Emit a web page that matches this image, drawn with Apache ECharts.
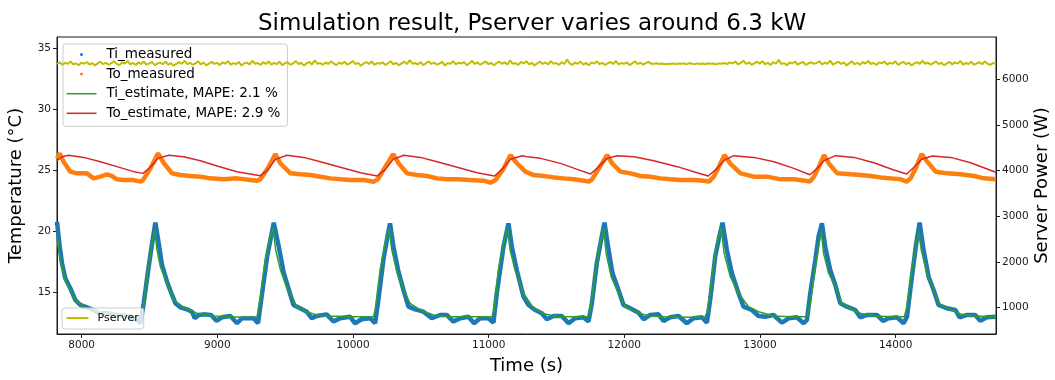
<!DOCTYPE html>
<html><head><meta charset="utf-8">
<script src="https://cdn.jsdelivr.net/npm/echarts@6/dist/echarts.min.js"></script>
<style>html,body{margin:0;padding:0;background:#fff}#c{width:1055px;height:380px}</style>
</head><body><div id="c"></div>
<script>
const titleText = 'Simulation result, Pserver varies around 6.3 kW';
const xTicks = [8000, 9000, 10000, 11000, 12000, 13000, 14000];
const tempTicks = [15, 20, 25, 30, 35];
const powerTicks = [1000, 2000, 3000, 4000, 5000, 6000];
const seriesNames = ['Ti_measured', 'To_measured', 'Ti_estimate, MAPE: 2.1 %', 'To_estimate, MAPE: 2.9 %', 'Pserver'];

const tiMeasured = [
[7818,20.79],[7838,18.74],[7855,17.37],[7879,16.15],[7916,15.33],[7953,14.37],[7990,13.96],[8039,13.77],[8088,13.55],[8125,13.28],[8187,13.28],[8260,13.14],[8334,13.06],[8408,12.73],[8433,12.46],[8457,14.10],[8494,17.10],[8519,19.01],[8543,20.71],[8568,19.01],[8592,17.24],[8629,15.87],[8666,14.78],[8691,14.10],[8727,13.77],[8777,13.60],[8813,13.41],[8833,12.87],[8863,13.14],[8912,13.19],[8954,13.14],[8993,12.67],[9035,12.95],[9096,13.06],[9145,12.46],[9182,12.87],[9231,12.87],[9268,12.87],[9300,12.46],[9330,14.92],[9367,17.92],[9416,20.71],[9453,18.74],[9490,16.56],[9539,14.78],
[9561,13.96],[9610,13.69],[9659,13.41],[9696,12.87],[9733,13.06],[9806,13.19],[9856,12.60],[9905,12.87],[9978,13.00],[10015,12.46],[10064,12.79],[10126,12.87],[10163,12.46],[10187,14.37],[10224,17.65],[10254,19.56],[10273,20.65],[10298,18.74],[10335,16.69],[10372,15.19],[10409,13.82],[10458,13.60],[10519,13.41],[10581,12.87],[10642,13.14],[10691,13.14],[10740,12.60],[10790,12.87],[10851,13.00],[10893,12.46],[10937,12.87],[10998,12.87],[11035,12.51],[11060,14.92],[11109,18.74],[11146,20.65],[11171,18.74],[11207,16.83],[11257,14.64],
[11294,13.96],[11343,13.55],[11392,13.28],[11429,12.79],[11478,13.06],[11539,13.06],[11589,12.46],[11638,12.87],[11699,12.95],[11736,12.60],[11761,14.10],[11797,17.37],[11829,19.29],[11854,20.71],[11884,18.47],[11913,16.56],[11957,15.19],[11994,13.96],[12043,13.69],[12105,13.33],[12142,12.79],[12191,13.14],[12252,13.19],[12289,12.65],[12338,12.95],[12400,13.06],[12461,12.46],[12510,12.87],[12572,12.95],[12609,12.51],[12633,14.37],[12670,17.92],[12700,19.56],[12724,20.71],[12756,18.47],[12793,16.56],[12842,14.92],[12879,13.82],[12940,13.55],[12990,13.06],
[13039,13.00],[13100,13.14],[13162,12.51],[13211,12.87],[13272,12.95],[13322,12.46],[13346,12.73],[13371,14.92],[13408,17.65],[13432,19.56],[13457,20.65],[13481,18.74],[13518,16.83],[13555,15.60],[13592,14.10],[13641,13.82],[13703,13.55],[13739,12.95],[13789,13.14],[13862,13.14],[13907,12.65],[13948,12.87],[14010,12.95],[14059,12.46],[14084,13.00],[14120,16.28],[14152,19.01],[14177,20.71],[14206,18.47],[14243,16.28],[14280,15.19],[14317,13.96],[14378,13.69],[14440,13.55],[14472,12.95],[14526,13.14],[14587,13.14],[14624,12.67],[14673,12.95],[14738,13.00]
];

const tiEstimate = [
[7818,19.56],[7843,17.65],[7879,16.01],[7929,14.92],[7965,14.23],[8014,13.82],[8088,13.55],[8187,13.28],[8310,13.06],[8433,13.00],[8452,13.55],[8482,16.28],[8514,18.74],[8538,20.11],[8555,18.47],[8580,17.10],[8629,15.74],[8678,14.37],[8752,13.77],[8850,13.28],[8973,13.06],[9096,13.00],[9194,12.95],[9293,13.00],[9322,14.92],[9354,17.65],[9391,19.56],[9411,20.24],[9430,18.47],[9465,16.83],[9514,15.33],[9551,14.64],
[9585,13.82],[9659,13.41],[9733,13.14],[9831,13.06],[9978,13.00],[10151,13.00],[10163,13.55],[10200,16.83],[10237,19.01],[10266,20.24],[10286,18.47],[10323,16.69],[10372,15.19],[10421,14.10],[10495,13.55],[10593,13.14],[10716,13.00],[10888,13.00],[11023,13.00],[11040,13.55],[11072,16.83],[11109,19.01],[11139,20.24],[11158,18.47],[11195,16.83],[11257,14.92],
[11330,13.69],[11416,13.22],[11515,13.00],[11638,13.00],[11736,13.00],[11748,13.55],[11785,16.56],[11822,19.01],[11847,20.24],[11866,18.20],[11903,16.28],[11957,14.92],[12006,13.82],[12080,13.41],[12178,13.06],[12301,13.00],[12473,12.95],[12596,13.00],[12616,13.55],[12645,16.28],[12682,19.01],[12714,20.24],[12736,18.20],[12781,16.28],[12842,14.92],[12916,13.82],[12990,13.41],
[13100,13.06],[13223,13.00],[13346,13.00],[13371,14.10],[13408,17.10],[13440,19.29],[13452,19.97],[13469,18.20],[13506,16.56],[13555,15.46],[13604,14.10],[13666,13.69],[13739,13.28],[13838,13.06],[13985,13.00],[14064,13.00],[14084,13.82],[14120,16.83],[14152,19.01],[14170,19.97],[14189,18.47],[14231,16.56],[14280,15.19],[14329,13.96],[14403,13.60],[14477,13.22],[14575,13.06],[14738,13.00]
];

const toMeasured = [
[7818,25.97],[7838,26.39],[7867,25.70],[7916,24.89],[7965,24.75],[8039,24.75],[8088,24.34],[8138,24.48],[8187,24.67],[8224,24.53],[8260,24.26],[8310,24.20],[8383,24.20],[8433,24.07],[8452,24.20],[8506,25.16],[8563,26.39],[8605,25.60],[8666,24.75],[8727,24.61],[8801,24.53],[8875,24.48],[8949,24.34],[9047,24.26],[9145,24.34],[9244,24.20],[9293,24.15],[9317,24.26],[9379,25.30],[9428,26.33],[9465,25.56],[9539,24.75],[9612,24.67],[9686,24.61],[9760,24.48],[9834,24.34],[9907,24.26],[9981,24.20],[10079,24.20],[10153,24.07],[10183,24.26],[10239,25.30],[10296,26.33],[10337,25.56],[10399,24.75],[10473,24.61],[10546,24.53],[10620,24.34],[10694,24.26],[10768,24.26],[10866,24.20],[10964,24.15],[11013,23.99],[11050,24.20],[11112,25.16],[11161,26.25],[11210,25.56],[11271,24.89],
[11333,24.61],[11407,24.53],[11481,24.42],[11554,24.34],[11628,24.26],[11702,24.15],[11739,24.07],[11763,24.26],[11812,25.16],[11874,26.25],[11911,25.56],[11972,24.89],[12046,24.75],[12120,24.53],[12193,24.48],[12267,24.34],[12341,24.26],[12415,24.20],[12513,24.20],[12587,24.15],[12624,24.07],[12660,24.48],[12697,25.30],[12739,26.25],[12783,25.52],[12857,24.75],[12955,24.48],[13054,24.48],[13152,24.26],[13250,24.26],[13336,24.15],[13368,24.07],[13398,24.48],[13435,25.30],[13472,26.25],[13508,25.56],[13570,24.75],[13668,24.67],[13742,24.61],[13816,24.53],[13889,24.42],[13963,24.34],[14037,24.26],[14081,24.07],[14111,24.34],[14148,25.16],[14192,26.34],[14234,25.70],[14295,24.89],[14381,24.75],[14479,24.67],[14578,24.53],[14652,24.34],[14738,24.26]
];

const toEstimate = [
[7818,25.79],[7855,26.11],[7904,26.23],[8015,26.06],[8138,25.70],[8260,25.30],[8383,24.89],[8452,24.75],[8506,25.25],[8563,25.98],[8641,26.23],[8752,26.11],[8875,25.79],[8998,25.35],[9145,24.89],[9317,24.56],[9367,24.97],[9428,25.90],[9514,26.23],[9637,26.06],[9760,25.70],[9907,25.25],[10055,24.80],[10178,24.53],[10239,25.08],[10296,25.90],[10374,26.23],[10497,26.06],[10620,25.70],[10768,25.25],[10915,24.80],[11043,24.53],[11099,25.08],[11161,25.90],[11247,26.20],
[11284,26.11],[11382,25.98],[11530,25.57],[11653,25.08],[11751,24.70],[11812,25.30],[11874,25.98],[11948,26.20],[12071,26.11],[12218,25.79],[12390,25.30],[12537,24.80],[12619,24.53],[12685,25.16],[12739,25.84],[12808,26.20],[12955,26.06],[13103,25.70],[13250,25.16],[13368,24.64],[13422,25.16],[13472,25.79],[13558,26.20],[13693,26.06],[13840,25.62],[13987,25.02],[14081,24.70],[14135,25.25],[14192,25.90],[14271,26.17],[14406,26.06],[14553,25.62],[14738,24.84]
];

const pserverStart = 7818;
const pserverStep = 20;
const pserverValues = [
6335,6372,6318,6360,6342,6390,6325,6350,6308,6365,6340,6378,6322,6355,6300,6348,6385,6330,6362,6318,
6352,6395,6338,6310,6368,6345,6402,6328,6358,6315,6372,6336,6390,6320,6350,6380,6312,6345,6365,6330,
6388,6322,6356,6298,6340,6375,6335,6410,6330,6362,6318,6350,6392,6326,6368,6305,6345,6382,6338,6360,
6315,6372,6342,6398,6320,6355,6332,6380,6300,6348,6366,6325,6405,6340,6358,6312,6376,6334,6390,6322,
6360,6330,6385,6308,6350,6372,6320,6345,6398,6335,6362,6302,6348,6380,6326,6415,6340,6356,6318,6370,
6332,6392,6345,6310,6366,6338,6385,6320,6352,6402,6330,6360,6298,6345,6378,6335,6390,6318,6355,6340,
6372,6315,6350,6395,6328,6362,6305,6348,6386,6332,6420,6340,6358,6322,6375,6310,6352,6392,6336,6366,
6320,6345,6380,6300,6355,6338,6398,6326,6362,6345,6378,6312,6350,6405,6335,6368,6318,6356,6390,6330,
6360,6308,6352,6385,6340,6370,6322,6412,6338,6355,6315,6380,6344,6395,6328,6362,6302,6350,6386,6335,
6368,6325,6398,6342,6356,6312,6375,6336,6430,6350,6318,6365,6340,6388,6322,6358,6305,6372,6345,6392,
6330,6362,6315,6350,6380,6335,6400,6325,6356,6340,6372,6310,6348,6395,6332,6366,6320,6355,6382,6338,
6340,6352,6335,6346,6330,6342,6336,6348,6332,6345,6338,6350,6328,6355,6340,6332,6348,6336,6344,6330,
6352,6338,6346,6325,6350,6340,6358,6332,6370,6345,6390,6326,6360,6408,6335,6372,6318,6350,6385,6342,
6398,6330,6362,6312,6376,6340,6425,6335,6355,6308,6368,6346,6390,6322,6358,6380,6315,6350,6372,6338,
6360,6395,6328,6365,6340,6410,6322,6352,6385,6336,6370,6305,6348,6392,6330,6362,6318,6378,6345,6400,
6335,6358,6312,6370,6348,6386,6325,6360,6340,6395,6318,6352,6382,6330,6366,6302,6350,6375,6336,6405,
6340,6368,6320,6355,6390,6332,6362,6310,6348,6380,6326,6372,6345,6398,6322,6358,6335,6385,6318,6350,
6372,6330,6395,6340,6315,6360,6338
];
const pserver = pserverValues.map((v, i) => [pserverStart + i * pserverStep, v]);

const FONT = 'DejaVu Sans';
const ink = '#1a1a1a';
const plain = v => String(v);

function axisCommon(ticks, name, gap) {
  return {
    name: name, nameLocation: 'middle', nameGap: gap, nameMoveOverlap: false,
    nameTextStyle: {fontFamily: FONT, fontSize: 18, color: '#000'},
    axisLine: {show: true, onZero: false, lineStyle: {color: ink, width: 1}},
    axisTick: {show: true, length: 4, customValues: ticks, lineStyle: {color: ink}},
    axisLabel: {customValues: ticks, formatter: plain, fontFamily: FONT, fontSize: 10.5, color: ink, margin: 6},
    splitLine: {show: false}
  };
}

const chart = echarts.init(document.getElementById('c'), null, {renderer: 'canvas'});
chart.setOption({
  animation: false,
  backgroundColor: '#fff',
  textStyle: {fontFamily: FONT},
  title: {
    text: titleText, left: 253, top: 8,
    textStyle: {fontFamily: FONT, fontSize: 23, fontWeight: 'normal', color: '#000'}
  },
  grid: {left: 57, right: 59, top: 37, bottom: 46, show: true, borderColor: ink, borderWidth: 1, backgroundColor: 'transparent', containLabel: false, outerBoundsMode: 'none'},
  legend: [{
    orient: 'vertical', left: 63, top: 44, z: 1,
    data: [
      {name: seriesNames[0], icon: 'circle'},
      {name: seriesNames[1], icon: 'circle'},
      {name: seriesNames[2], icon: 'path://M0,0H20V1H0Z'},
      {name: seriesNames[3], icon: 'path://M0,0H20V1H0Z'}
    ],
    itemWidth: 30, itemHeight: 3, itemGap: 3.6,
    textStyle: {fontFamily: FONT, fontSize: 13.5, color: '#000', lineHeight: 16, padding: [0, 0, 0, 5]},
    backgroundColor: 'rgba(255,255,255,0.8)', borderColor: '#cccccc', borderWidth: 1, borderRadius: 3,
    padding: [2.5, 7, 5, 3.5], selectedMode: false
  }, {
    orient: 'vertical', left: 62, top: 308, z: 5,
    data: [{name: seriesNames[4], icon: 'rect'}],
    itemWidth: 22, itemHeight: 2,
    textStyle: {fontFamily: FONT, fontSize: 11, color: '#000', lineHeight: 13, padding: [0, 0, 0, 4]},
    backgroundColor: 'rgba(255,255,255,0.8)', borderColor: '#cccccc', borderWidth: 1, borderRadius: 3,
    padding: [3.5, 5, 4.5, 4.5], selectedMode: false
  }],
  xAxis: Object.assign({type: 'value', min: 7818, max: 14740}, axisCommon(xTicks, 'Time (s)', 23)),
  yAxis: [
    Object.assign({type: 'value', position: 'left', min: 11.58, max: 35.93}, axisCommon(tempTicks, 'Temperature (°C)', 32)),
    Object.assign({type: 'value', position: 'right', min: 424, max: 6926}, axisCommon(powerTicks, 'Server Power (W)', 37))
  ],
  series: [
    {name: seriesNames[0], type: 'line', data: tiMeasured, yAxisIndex: 0, showSymbol: false, color: '#1f77b4', lineStyle: {width: 4.5, color: '#1f77b4'}, z: 2},
    {name: seriesNames[1], type: 'line', data: toMeasured, yAxisIndex: 0, showSymbol: false, color: '#ff7f0e', lineStyle: {width: 4.5, color: '#ff7f0e'}, z: 2},
    {name: seriesNames[2], type: 'line', data: tiEstimate, yAxisIndex: 0, showSymbol: false, color: '#2ca02c', lineStyle: {width: 1.5, color: '#2ca02c'}, z: 3},
    {name: seriesNames[3], type: 'line', data: toEstimate, yAxisIndex: 0, showSymbol: false, color: '#d62728', lineStyle: {width: 1.5, color: '#d62728'}, z: 3},
    {name: seriesNames[4], type: 'line', data: pserver, yAxisIndex: 1, showSymbol: false, color: '#bfbf00', lineStyle: {width: 2, color: '#bfbf00'}, z: 3}
  ]
});
</script></body></html>
